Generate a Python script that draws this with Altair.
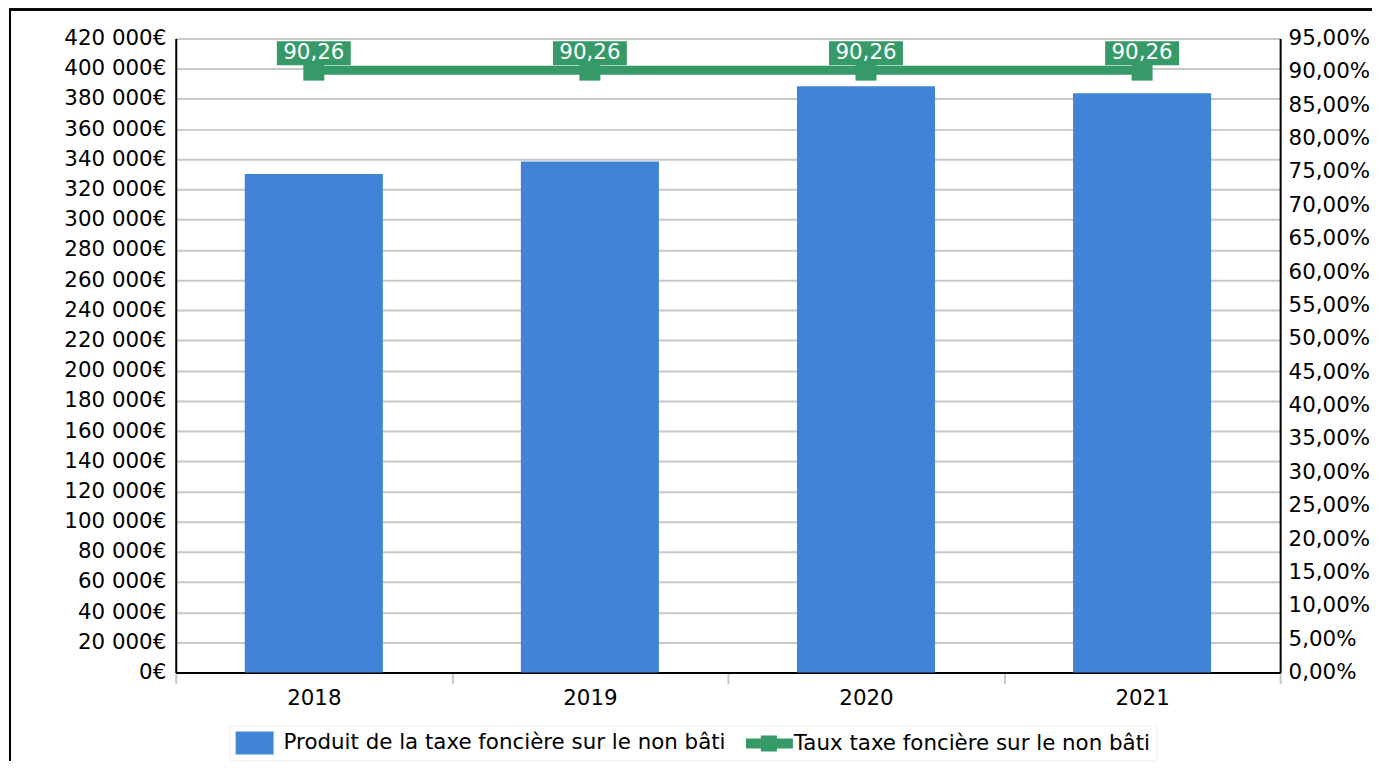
import altair as alt
import pandas as pd

years = ["2018", "2019", "2020", "2021"]
produit = [330300, 338600, 388300, 383800]
taux = [90.26, 90.26, 90.26, 90.26]
serie_bar = "Produit de la taxe foncière sur le non bâti"
serie_line = "Taux taxe foncière sur le non bâti"
left_ticks = list(range(0, 420001, 20000))
right_ticks = list(range(0, 96, 5))

BLUE = "#4183d7"
GREEN = "#359a68"
FONT = "DejaVu Sans"
FS = 21.4

df_bar = pd.DataFrame({"annee": years, "valeur": produit, "serie": serie_bar})
df_line = pd.DataFrame({"annee": years, "taux": taux, "serie": serie_line})

x_enc = alt.X(
    "annee:N",
    title=None,
    scale=alt.Scale(paddingInner=0, paddingOuter=0),
    axis=alt.Axis(
        labelAngle=0, labelFontSize=FS, labelColor="#000", labelFont=FONT,
        domainColor="#000", domainWidth=2, tickColor="#c8c8c8", tickWidth=2,
        tickSize=11, tickBand="extent", labelPadding=4, grid=False,
    ),
)

is_bar = "datum.value === '" + serie_bar + "'"
color_enc = alt.Color(
    "serie:N",
    scale=alt.Scale(domain=[serie_bar, serie_line], range=[BLUE, GREEN]),
    legend=alt.Legend(
        title=None, orient="none", legendX=54, legendY=688, direction="horizontal",
        labelFontSize=FS, labelFont=FONT, labelColor="#000", labelOffset=25,
        labelLimit=2000, symbolSize=529, columnPadding=20, padding=6,
        strokeColor="#eeeeee", fillColor="#ffffff", symbolStrokeWidth=0, symbolOpacity=1,
        symbolType={"expr": is_bar + " ? 'M-1,-1H2.3V1H-1Z' : 'M-1,-0.435H0.3V-0.7H1.7V-0.435H3.09V0.435H1.7V0.7H0.3V0.435H-1Z'"},
        symbolFillColor={"expr": is_bar + " ? '" + BLUE + "' : '" + GREEN + "'"},
    ),
)

bars = alt.Chart(df_bar).mark_bar(width={"band": 0.5}).encode(
    x=x_enc,
    y=alt.Y(
        "valeur:Q",
        title=None,
        scale=alt.Scale(domain=[0, 420000], nice=False),
        axis=alt.Axis(
            values=left_ticks, labelFontSize=FS, labelFont=FONT, labelColor="#000",
            labelExpr="replace(format(datum.value, ','), regexp(',', 'g'), ' ') + '€'",
            domainColor="#000", domainWidth=2, ticks=False, tickSize=0, labelPadding=10,
            labelOverlap=False, grid=True, gridColor="#c8c8c8", gridWidth=2,
        ),
    ),
    color=color_enc,
)

y_right = alt.Y(
    "taux:Q",
    title=None,
    scale=alt.Scale(domain=[0, 95], nice=False),
    axis=alt.Axis(
        orient="right", values=right_ticks, labelFontSize=FS, labelFont=FONT, labelColor="#000",
        labelExpr="replace(format(datum.value, '.2f'), '.', ',') + '%'",
        domainColor="#000", domainWidth=2, ticks=False, tickSize=0, labelPadding=8,
        labelOverlap=False, labelBound=False, labelFlush=False, grid=False,
    ),
)

base_line = alt.Chart(df_line).transform_calculate(
    lbl="replace(format(datum.taux, '.2f'), '.', ',')"
)

line = base_line.mark_line(strokeWidth=9).encode(x=x_enc, y=y_right, color=color_enc)
markers = base_line.mark_point(shape="square", size=441, filled=True, opacity=1, color=GREEN).encode(
    x=x_enc, y=y_right
)
boxes = base_line.mark_point(
    shape="M-1,-0.324H1V0.324H-1Z", size=5476, filled=True, opacity=1, color=GREEN, yOffset=-17
).encode(x=x_enc, y=y_right)
texts = base_line.mark_text(
    color="white", fontSize=FS, font=FONT, yOffset=-17, baseline="middle", align="center"
).encode(x=x_enc, y=y_right, text="lbl:N")

line_layer = alt.layer(line, markers, boxes, texts)

frame_left = alt.Chart(df_bar).mark_rule(color="#000", strokeWidth=2).encode(
    x=alt.value(-166), y=alt.value(-29), y2=alt.value(723)
)
frame_top = alt.Chart(df_bar).mark_rule(color="#000", strokeWidth=2).encode(
    x=alt.value(-167), x2=alt.value(1198), y=alt.value(-29)
)

chart = alt.layer(bars, line_layer, frame_left, frame_top).resolve_scale(
    y="independent"
).properties(
    width=1106, height=635, padding=0, background="white"
).configure_view(stroke=None).configure(font=FONT)

chart.save("out.html", embed_options={"renderer": "svg", "actions": False})
